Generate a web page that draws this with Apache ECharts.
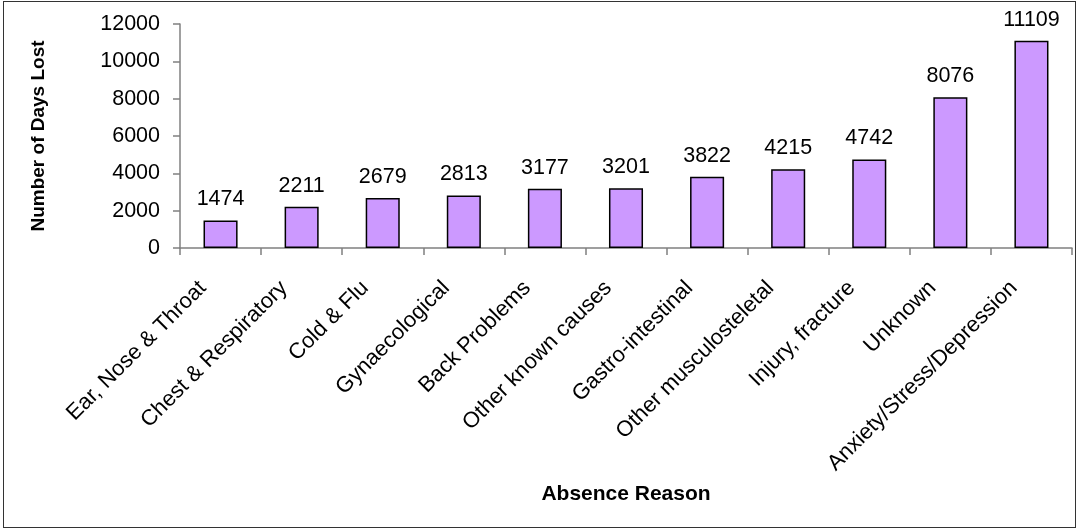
<!DOCTYPE html>
<html>
<head>
<meta charset="utf-8">
<script src="https://cdn.jsdelivr.net/npm/echarts@6/dist/echarts.min.js"></script>
<style>
  html, body { margin: 0; padding: 0; background: #fff; }
  #frame { position: absolute; left: 3px; top: 1px; width: 1071px; height: 525px; border: 1.5px solid #333; }
  #chart { position: absolute; left: 0; top: 0; width: 1080px; height: 531px; }
</style>
</head>
<body>
<div id="frame"></div>
<div id="chart"></div>
<script>
// Days lost by absence reason
const reasons = [
  'Ear, Nose & Throat', 'Chest & Respiratory', 'Cold & Flu', 'Gynaecological',
  'Back Problems', 'Other known causes', 'Gastro-intestinal', 'Other musculosteletal',
  'Injury, fracture', 'Unknown', 'Anxiety/Stress/Depression'
];
const daysLost = [1474, 2211, 2679, 2813, 3177, 3201, 3822, 4215, 4742, 8076, 11109];
const yTicks = { min: 0, max: 12000, interval: 2000 };

const font = 'Arial, "Liberation Sans", sans-serif';
const chart = echarts.init(document.getElementById('chart'), null, { renderer: 'canvas' });
chart.setOption({
  animation: false,
  backgroundColor: 'transparent',
  grid: { left: 180, right: 8, top: 24, bottom: 283, containLabel: false },
  xAxis: {
    type: 'category',
    data: reasons,
    name: 'Absence Reason',
    nameLocation: 'middle',
    nameGap: 236,
    nameTextStyle: { fontFamily: font, fontSize: 21, fontWeight: 'bold', color: '#000' },
    axisLine: { lineStyle: { color: '#808080', width: 1.5 } },
    axisTick: { show: true, alignWithLabel: false, length: 7, lineStyle: { color: '#808080', width: 1.5 } },
    axisLabel: {
      rotate: 45, interval: 0, fontFamily: font, fontSize: 22, color: '#000',
      margin: 19, padding: [0, 25, 0, 0]
    }
  },
  yAxis: {
    type: 'value',
    min: yTicks.min, max: yTicks.max, interval: yTicks.interval,
    name: 'Number of Days Lost',
    nameLocation: 'middle',
    nameGap: 132,
    nameTextStyle: { fontFamily: font, fontSize: 19, fontWeight: 'bold', color: '#000' },
    axisLine: { show: true, lineStyle: { color: '#808080', width: 1.5 } },
    axisTick: { show: true, length: 7, lineStyle: { color: '#808080', width: 1.5 } },
    axisLabel: { fontFamily: font, fontSize: 21.5, color: '#000', margin: 20, formatter: v => String(v) },
    splitLine: { show: false }
  },
  series: [{
    type: 'bar',
    data: daysLost,
    barWidth: '42%',
    itemStyle: { color: '#cc99ff', borderColor: '#000', borderWidth: 1.5 },
    label: { show: true, position: 'top', distance: 10, fontFamily: font, fontSize: 21.5, color: '#000' }
  }]
});
</script>
</body>
</html>
